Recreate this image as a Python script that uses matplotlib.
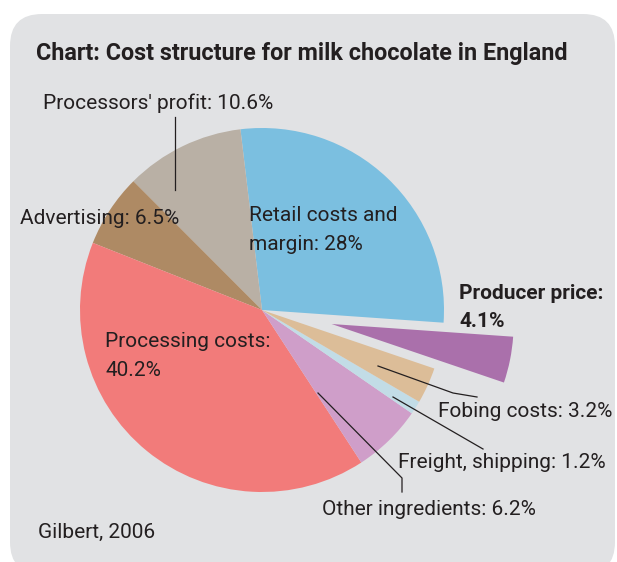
import matplotlib
matplotlib.use("Agg")
import matplotlib.pyplot as plt
from matplotlib.patches import FancyBboxPatch

plt.rcParams['font.family'] = ['Roboto', 'DejaVu Sans']

categories = ["Retail costs and margin", "Processors' profit", "Advertising",
              "Processing costs", "Other ingredients", "Freight, shipping",
              "Fobing costs", "Producer price"]
values = [28, 10.6, 6.5, 40.2, 6.2, 1.2, 3.2, 4.1]
colors = ["#7bbfe0", "#b9b0a5", "#ae8a64", "#f27b7a", "#cf9ec9", "#c2dce6",
          "#dcbd98", "#aa70ab"]
explode = [0, 0, 0, 0, 0, 0, 0, 0.39]

W, H = 617, 562
fig = plt.figure(figsize=(W / 100, H / 100), dpi=100)
fig.patch.set_facecolor("white")

bg = fig.add_axes([0, 0, 1, 1], zorder=0)
bg.set_xlim(0, W)
bg.set_ylim(H, 0)
bg.axis("off")
rp = 32
bg.add_patch(FancyBboxPatch((10 + rp, 14 + rp), 605 - 2 * rp, 560 - 2 * rp,
                            boxstyle=f"round,pad={rp}", fc="#e1e2e4", ec="none"))

R = 182
cx, cy = 262, 310
half = 1.5 * R
pie_ax = fig.add_axes([(cx - half) / W, (H - cy - half) / H, 2 * half / W, 2 * half / H], zorder=1)
pie_ax.pie(values, colors=colors, explode=explode, startangle=-4,
           counterclock=True, radius=1, wedgeprops=dict(linewidth=0))
pie_ax.set_xlim(-1.5, 1.5)
pie_ax.set_ylim(-1.5, 1.5)
pie_ax.axis("off")

ov = fig.add_axes([0, 0, 1, 1], zorder=2)
ov.set_xlim(0, W)
ov.set_ylim(H, 0)
ov.axis("off")
ov.patch.set_alpha(0)

tc = "#231f20"
fs = 15
ov.text(36, 60, "Chart: Cost structure for milk chocolate in England", fontsize=16.8,
        fontweight="bold", color=tc, va="baseline", ha="left")
ov.text(43, 109, "Processors' profit: 10.6%", fontsize=fs, color=tc, va="baseline")
ov.text(20, 224, "Advertising: 6.5%", fontsize=fs, color=tc, va="baseline")
ov.text(249, 221, "Retail costs and", fontsize=fs, color=tc, va="baseline")
ov.text(249, 250, "margin: 28%", fontsize=fs, color=tc, va="baseline")
ov.text(459, 299, "Producer price:", fontsize=fs, fontweight="bold", color=tc, va="baseline")
ov.text(459, 327, "4.1%", fontsize=fs, fontweight="bold", color=tc, va="baseline")
ov.text(105, 347, "Processing costs:", fontsize=fs, color=tc, va="baseline")
ov.text(105, 376, "40.2%", fontsize=fs, color=tc, va="baseline")
ov.text(438, 417, "Fobing costs: 3.2%", fontsize=fs, color=tc, va="baseline")
ov.text(398, 468, "Freight, shipping: 1.2%", fontsize=fs, color=tc, va="baseline")
ov.text(322, 515, "Other ingredients: 6.2%", fontsize=fs, color=tc, va="baseline")
ov.text(38, 538, "Gilbert, 2006", fontsize=fs, color=tc, va="baseline")

lw = 0.9
ov.plot([175, 175], [117, 190], color=tc, lw=lw)
ov.plot([378, 453, 477], [366, 393, 397], color=tc, lw=lw)
ov.plot([393, 483], [397, 449], color=tc, lw=lw)
ov.plot([318, 402, 402], [393, 478, 492], color=tc, lw=lw)

fig.savefig("out.png", dpi=100)
